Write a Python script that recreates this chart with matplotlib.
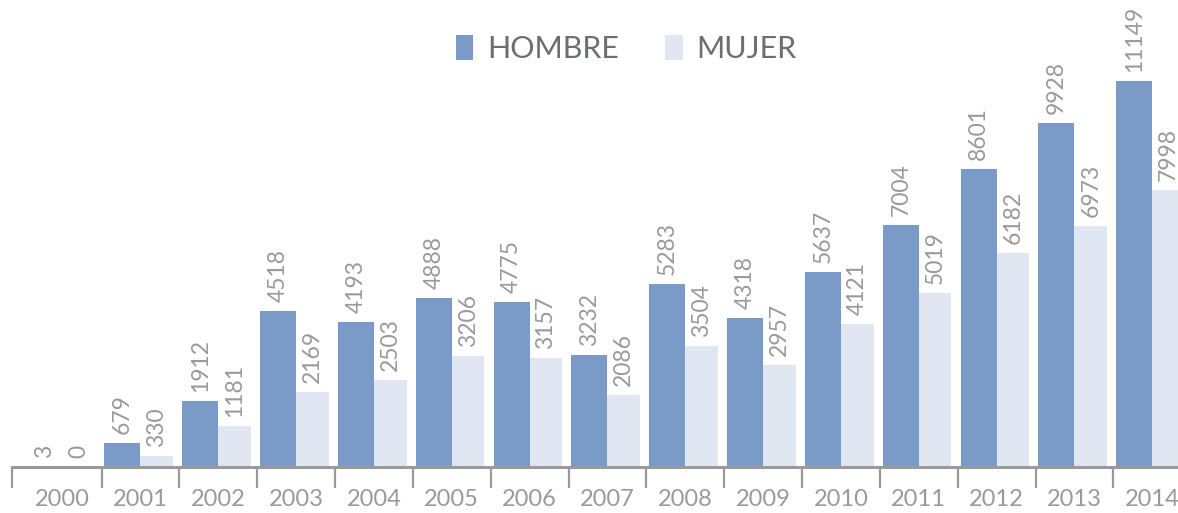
import matplotlib
matplotlib.use("Agg")
import matplotlib.pyplot as plt
from matplotlib.patches import Patch

years = ["2000", "2001", "2002", "2003", "2004", "2005", "2006", "2007",
         "2008", "2009", "2010", "2011", "2012", "2013", "2014"]
hombre = [3, 679, 1912, 4518, 4193, 4888, 4775, 3232, 5283, 4318, 5637, 7004, 8601, 9928, 11149]
mujer = [0, 330, 1181, 2169, 2503, 3206, 3157, 2086, 3504, 2957, 4121, 5019, 6182, 6973, 7998]

C_H = "#7a9ac8"
C_M = "#e0e6f2"
GRAY = "#9a9a9a"
FONT = ["Lato", "DejaVu Sans"]

fig = plt.figure(figsize=(11.78, 5.13), dpi=100)
W, H = 1178, 513
ax = fig.add_axes([12 / W, (H - 467) / H, (W - 12) / W, 467 / H])
ax.set_xlim(-0.65, 14.33)
ax.set_ylim(0, 13490)

x = list(range(len(years)))
bw_h = 0.463
bw_m = 0.42
bh = ax.bar([i - bw_h for i in x], hombre, width=bw_h, align="edge", color=C_H, linewidth=0)
bm = ax.bar(x, mujer, width=bw_m, align="edge", color=C_M, linewidth=0)

for rects, vals in ((bh, hombre), (bm, mujer)):
    for r, v in zip(rects, vals):
        ax.annotate(str(v), (r.get_x() + r.get_width() / 2, r.get_height()),
                    xytext=(0, 9), textcoords="offset pixels",
                    rotation=90, ha="center", va="bottom",
                    fontsize=16.5, color=GRAY, family=FONT)

for s in ["top", "right", "left"]:
    ax.spines[s].set_visible(False)
ax.spines["bottom"].set_color(GRAY)
ax.spines["bottom"].set_linewidth(2.2)
ax.set_yticks([])

# separators between categories
seps = [-0.65] + [i + 0.5 for i in range(14)]
ax.set_xticks(seps)
ax.set_xticklabels([])
ax.tick_params(axis="x", length=15, width=1.6, color=GRAY, direction="out")
ax.set_xticks(x, minor=True)
ax.set_xticklabels(years, minor=True)
ax.tick_params(axis="x", which="minor", length=0, pad=16, labelsize=17, labelcolor=GRAY)
for t in ax.get_xticklabels(minor=True):
    t.set_family(FONT)

handles = [Patch(facecolor=C_H, linewidth=0), Patch(facecolor=C_M, linewidth=0)]
fig.legend(handles, ["HOMBRE", "MUJER"], loc="center",
           bbox_to_anchor=(626 / W, 1 - 49 / H), ncol=2, frameon=False,
           prop={"family": FONT, "size": 22}, labelcolor="#6d6f6e",
           handlelength=0.58, handleheight=0.85, handletextpad=0.45,
           columnspacing=1.5)

fig.savefig("out.png", dpi=100)
